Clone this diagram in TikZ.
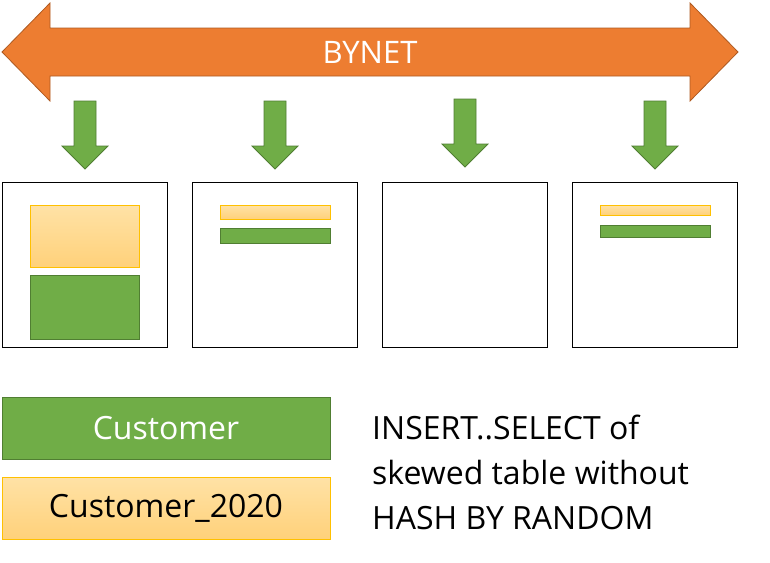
\documentclass[tikz,border=0pt]{standalone}
\usepackage{fontspec}
\setmainfont{Open Sans}
\definecolor{bynetfill}{HTML}{ED7D31}
\definecolor{bynetdraw}{HTML}{AE5A21}
\definecolor{grfill}{HTML}{70AD47}
\definecolor{grdraw}{HTML}{507E32}
\definecolor{yltop}{HTML}{FFE2A6}
\definecolor{ylbot}{HTML}{FFD17A}
\definecolor{yldraw}{HTML}{FFC000}
\tikzset{
  down/.style={draw=grdraw,fill=grfill,line width=0.8pt},
  cust/.style={draw=grdraw,fill=grfill,line width=0.8pt},
  cust20/.style={draw=yldraw,top color=yltop,bottom color=ylbot,line width=0.6pt},
  amp/.style={draw=black,line width=0.8pt},
}
\begin{document}
\begin{tikzpicture}[x=1pt,y=-1pt]
  \useasboundingbox (0,0) rectangle (770,562);
  % BYNET arrow
  \draw[draw=bynetdraw,fill=bynetfill,line width=0.8pt]
    (2,52) -- (50,3) -- (50,28) -- (690,28) -- (690,3) -- (738,52)
    -- (690,101) -- (690,76) -- (50,76) -- (50,101) -- cycle;
  \node[text=white,font=\fontsize{31}{36}\selectfont] (bynet) at (370,52) {BYNET};
  % arrows down to the AMPs
  \foreach \x/\t in {85/101,275/101,465/99,655/101}
    \draw[down] (\x-11,\t) -- (\x+11,\t) -- (\x+11,\t+45) -- (\x+23,\t+45)
      -- (\x,\t+68) -- (\x-23,\t+45) -- (\x-11,\t+45) -- cycle;
  % AMPs
  \foreach \x in {2,192,382,572}
    \draw[amp] (\x,182) rectangle ++(165,165);
  % rows per AMP
  \draw[cust20] (30,205) rectangle (139,267);
  \draw[cust] (30,275) rectangle (139,339);
  \draw[cust20] (220,205) rectangle (330,219);
  \draw[cust] (220,228) rectangle (330,243);
  \draw[cust20] (600,205) rectangle (710,215);
  \draw[cust] (600,225) rectangle (710,237);
  % legend
  \node[cust,minimum width=328pt,minimum height=62pt,text=white,
    font=\fontsize{32}{38}\selectfont] (customer) at (166,428) {Customer};
  \node[cust20,minimum width=328pt,minimum height=62pt,
    font=\fontsize{32}{38}\selectfont] (customer2020) at (166,508) {Customer\_2020};
  \node[anchor=west,align=left,inner sep=0pt,font=\fontsize{32}{45}\selectfont] (note) at (372,472)
    {INSERT..SELECT of\\skewed table without\\HASH BY RANDOM};
\end{tikzpicture}
\end{document}
